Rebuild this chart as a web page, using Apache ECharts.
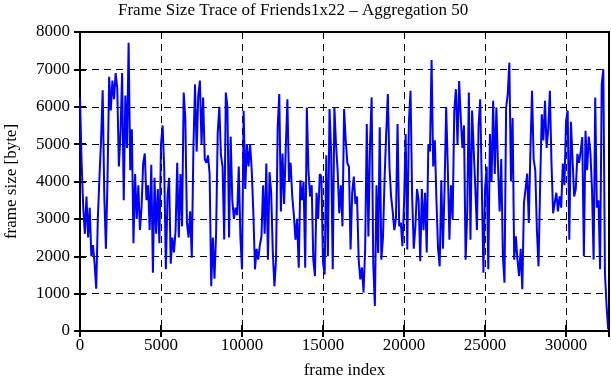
<!DOCTYPE html>
<html>
<head>
<meta charset="utf-8">
<script src="https://cdn.jsdelivr.net/npm/echarts@6/dist/echarts.min.js"></script>
<style>html,body{margin:0;padding:0;background:#fff}#c{width:611px;height:380px}</style>
</head>
<body>
<div id="c"></div>
<script>
// frame sizes (byte), one value every FRAME_STEP frames
const FRAME_STEP = 100;
const frameSizes = [
 6250,4500,3300,2600,3600,2500,3300,2000,2300,1800,
 1130,3000,4100,5100,6440,3600,2200,4100,6800,5900,
 6700,6200,6900,6500,4400,5300,6900,3500,6300,4900,
 7710,4300,5400,2350,4200,3000,3900,2700,3300,4500,
 4750,3500,3900,2700,4450,1560,4100,2600,3800,2350,
 5000,5500,4300,1650,3600,4100,1800,2500,2100,2700,
 4500,2500,4200,2800,6380,5700,2900,2500,3200,1960,
 4900,6600,4800,6300,6700,5000,6250,4600,4500,4700,
 4200,1200,2500,1400,2600,5300,6000,4700,4400,2450,
 6380,6000,2500,5200,3500,3000,3300,3100,4400,2500,
 1650,5890,3800,5000,4400,5000,4300,3150,1650,2200,
 1910,2300,2530,3900,2600,4480,1910,4250,3700,2100,
 1200,1900,5450,6340,3200,4750,3400,4900,6200,4000,
 4500,3600,3100,2440,3000,1690,4030,3500,4000,1690,
 5980,4300,3600,3900,1910,1470,3700,3000,4200,4130,
 1820,1510,4700,2000,5940,4800,1650,5980,5000,4300,
 3150,3900,2800,5940,5100,4500,4390,2180,3700,4130,
 3400,3600,1910,1380,1700,1030,2200,5540,2530,5000,
 6250,1800,670,3900,2090,5450,1910,2500,4100,5300,
 6340,4400,3600,3200,2700,3000,5540,2800,2900,2270,
 3400,5270,2180,5590,6430,3600,2200,2800,3800,3500,
 1870,3800,2700,3700,2100,5000,4800,7250,4400,5100,
 3500,2200,1730,4030,2200,3800,5980,4400,2440,3900,
 3000,5890,6470,5000,6690,5720,4900,5500,1910,3200,
 6380,2440,5900,5900,3800,2700,5500,6200,6250,1560,
 3800,4400,1650,5270,4000,6160,4200,5980,4400,3200,
 4600,2000,1290,5980,6340,7180,4000,5700,1910,2530,
 1910,1470,2200,1120,3420,3800,4210,2890,4830,6430,
 4600,4300,2700,1730,3900,5800,5100,6160,4900,5400,
 6430,4500,3150,3100,3700,3200,3600,3300,4480,3900,
 5630,5900,2440,5600,4600,3600,3800,4740,4500,4800,
 5190,2000,5360,4300,5200,4800,3800,1910,6250,3300,
 3500,1650,6600,7000,1560,670,50
];
const xMax = 32650;
const xTicks = [0,5000,10000,15000,20000,25000,30000];
const yTicks = [0,1000,2000,3000,4000,5000,6000,7000,8000];

const seriesData = frameSizes.map((v, i) => [i * FRAME_STEP, v]);

const font = 'Liberation Serif';
const chart = echarts.init(document.getElementById('c'));
const dashed = {show: true, lineStyle: {color: '#000', type: [7, 5], width: 1}};
chart.setOption({
  animation: false,
  backgroundColor: '#fff',
  title: {
    text: 'Frame Size Trace of Friends1x22 \u2013 Aggregation 50',
    left: 113, top: -3,
    textStyle: {fontFamily: font, fontSize: 17, fontWeight: 'normal', color: '#000'}
  },
  grid: {left: 80, right: 2, top: 32, bottom: 49, containLabel: false, outerBoundsMode: 'none',
    show: true, borderColor: '#000', borderWidth: 2, backgroundColor: 'transparent'},
  xAxis: [{
    type: 'value', min: 0, max: xMax, interval: 5000, position: 'bottom',
    name: 'frame index', nameLocation: 'middle', nameGap: 31,
    nameTextStyle: {fontFamily: font, fontSize: 17, color: '#000'},
    axisLine: {show: true, onZero: false, lineStyle: {color: '#000', width: 2}},
    axisTick: {show: true, inside: true, length: 6, lineStyle: {color: '#000', width: 2}},
    axisLabel: {fontFamily: font, fontSize: 17, color: '#000', margin: 6,
      formatter: v => xTicks.includes(v) ? String(v) : ''},
    splitLine: dashed
  },{
    type: 'value', min: 0, max: xMax, interval: 5000, position: 'top',
    axisLine: {show: true, lineStyle: {color: '#000', width: 2}},
    axisTick: {show: true, inside: true, length: 6, lineStyle: {color: '#000', width: 2}},
    axisLabel: {show: false}, splitLine: {show: false}
  }],
  yAxis: [{
    type: 'value', min: 0, max: 8000, interval: 1000, position: 'left',
    name: 'frame size [byte]', nameLocation: 'middle', nameGap: 60,
    nameTextStyle: {fontFamily: font, fontSize: 17, color: '#000'},
    axisLine: {show: true, onZero: false, lineStyle: {color: '#000', width: 2}},
    axisTick: {show: true, inside: true, length: 6, lineStyle: {color: '#000', width: 2}},
    axisLabel: {fontFamily: font, fontSize: 17, color: '#000', margin: 10,
      formatter: v => yTicks.includes(v) ? String(v) : ''},
    splitLine: dashed
  },{
    type: 'value', min: 0, max: 8000, interval: 1000, position: 'right',
    axisLine: {show: true, lineStyle: {color: '#000', width: 2}},
    axisTick: {show: true, inside: true, length: 6, lineStyle: {color: '#000', width: 2}},
    axisLabel: {show: false}, splitLine: {show: false}
  }],
  series: [{
    type: 'line', data: seriesData, xAxisIndex: 0, yAxisIndex: 0,
    showSymbol: false, symbol: 'none',
    lineStyle: {color: '#0000ff', width: 2}, z: 1
  }]
});
</script>
</body>
</html>
